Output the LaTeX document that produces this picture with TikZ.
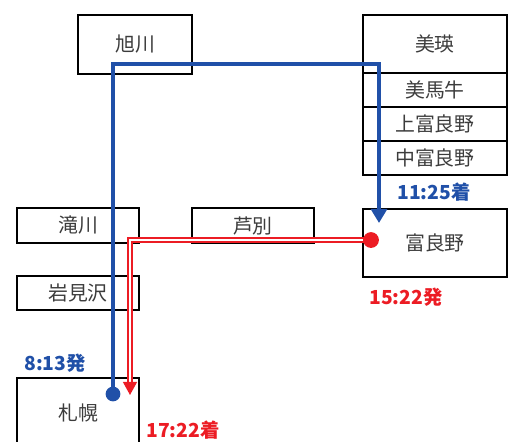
\documentclass[tikz,border=0pt]{standalone}
\usepackage{fontspec}
\setmainfont{Noto Sans CJK JP}
\usetikzlibrary{arrows.meta}
\definecolor{routeblue}{RGB}{32,80,168}
\definecolor{routered}{RGB}{236,28,36}
\definecolor{boxtext}{RGB}{60,60,60}

\tikzset{
  station/.style={draw, line width=1pt, text=boxtext, inner sep=0pt,
    font=\fontsize{11.3}{13}\selectfont},
  wide/.style={minimum width=2.88cm},
  narrow/.style={minimum width=2.44cm},
  timeblue/.style={text=routeblue, font=\fontsize{11}{13}\selectfont\bfseries},
  timered/.style={text=routered, font=\fontsize{11}{13}\selectfont\bfseries}
}

\begin{document}
\begin{tikzpicture}[x=0.02cm, y=-0.02cm]
        \useasboundingbox (0,0) rectangle (515,441);

        % Stations along the route
        \node[station, minimum width=2.28cm, minimum height=1.18cm] (asahikawa) at (135,44.5) {旭川};
        \node[station, wide, minimum height=1.16cm] (biei) at (435,44) {美瑛};
        \node[station, wide, minimum height=0.68cm] (bibaushi) at (435,90) {美馬牛};
        \node[station, wide, minimum height=0.68cm] (kamifurano) at (435,124) {上富良野};
        \node[station, wide, minimum height=0.68cm] (nakafurano) at (435,158) {中富良野};
        \node[station, wide, minimum height=1.36cm] (furano) at (435,243) {富良野};
        \node[station, narrow, minimum height=0.70cm] (takikawa) at (78,225.5) {滝川};
        \node[station, narrow, minimum height=0.70cm] (ashibetsu) at (253,225.5) {芦別};
        \node[station, narrow, minimum height=0.68cm] (iwamizawa) at (78,293) {岩見沢};
        \node[station, narrow, minimum height=1.40cm] (sapporo) at (78,413) {札幌};

        % Turning points of the two trips
        \coordinate (spdot) at (113,394);
        \coordinate (bturn) at (379,64);
        \coordinate (barr) at (379,223);
        \coordinate (fdot) at (371,240);
        \coordinate (rturn) at (130,240);
        \coordinate (rarr) at (130,395);

        % Outward trip
        \draw[routeblue, line width=2.4pt, -{Triangle[length=8pt, width=9pt]}]
            (spdot) |- (bturn) -- (barr);
        \fill[routeblue] (spdot) circle (4.2pt);

        % Return trip
        \draw[routered, line width=0.9pt, double=white, double distance=1.1pt,
            -{Triangle[length=7.5pt, width=8pt]}] (fdot) -- (rturn) -- (rarr);
        \fill[routered] (fdot) circle (4.5pt);

        % Times
        \node[timeblue] (dep813) at (55,363) {8:13発};
        \node[timeblue] (arr1125) at (434,192) {11:25着};
        \node[timered] (dep1522) at (406,297) {15:22発};
        \node[timered] (arr1722) at (183,430) {17:22着};
    \end{tikzpicture}
\end{document}
